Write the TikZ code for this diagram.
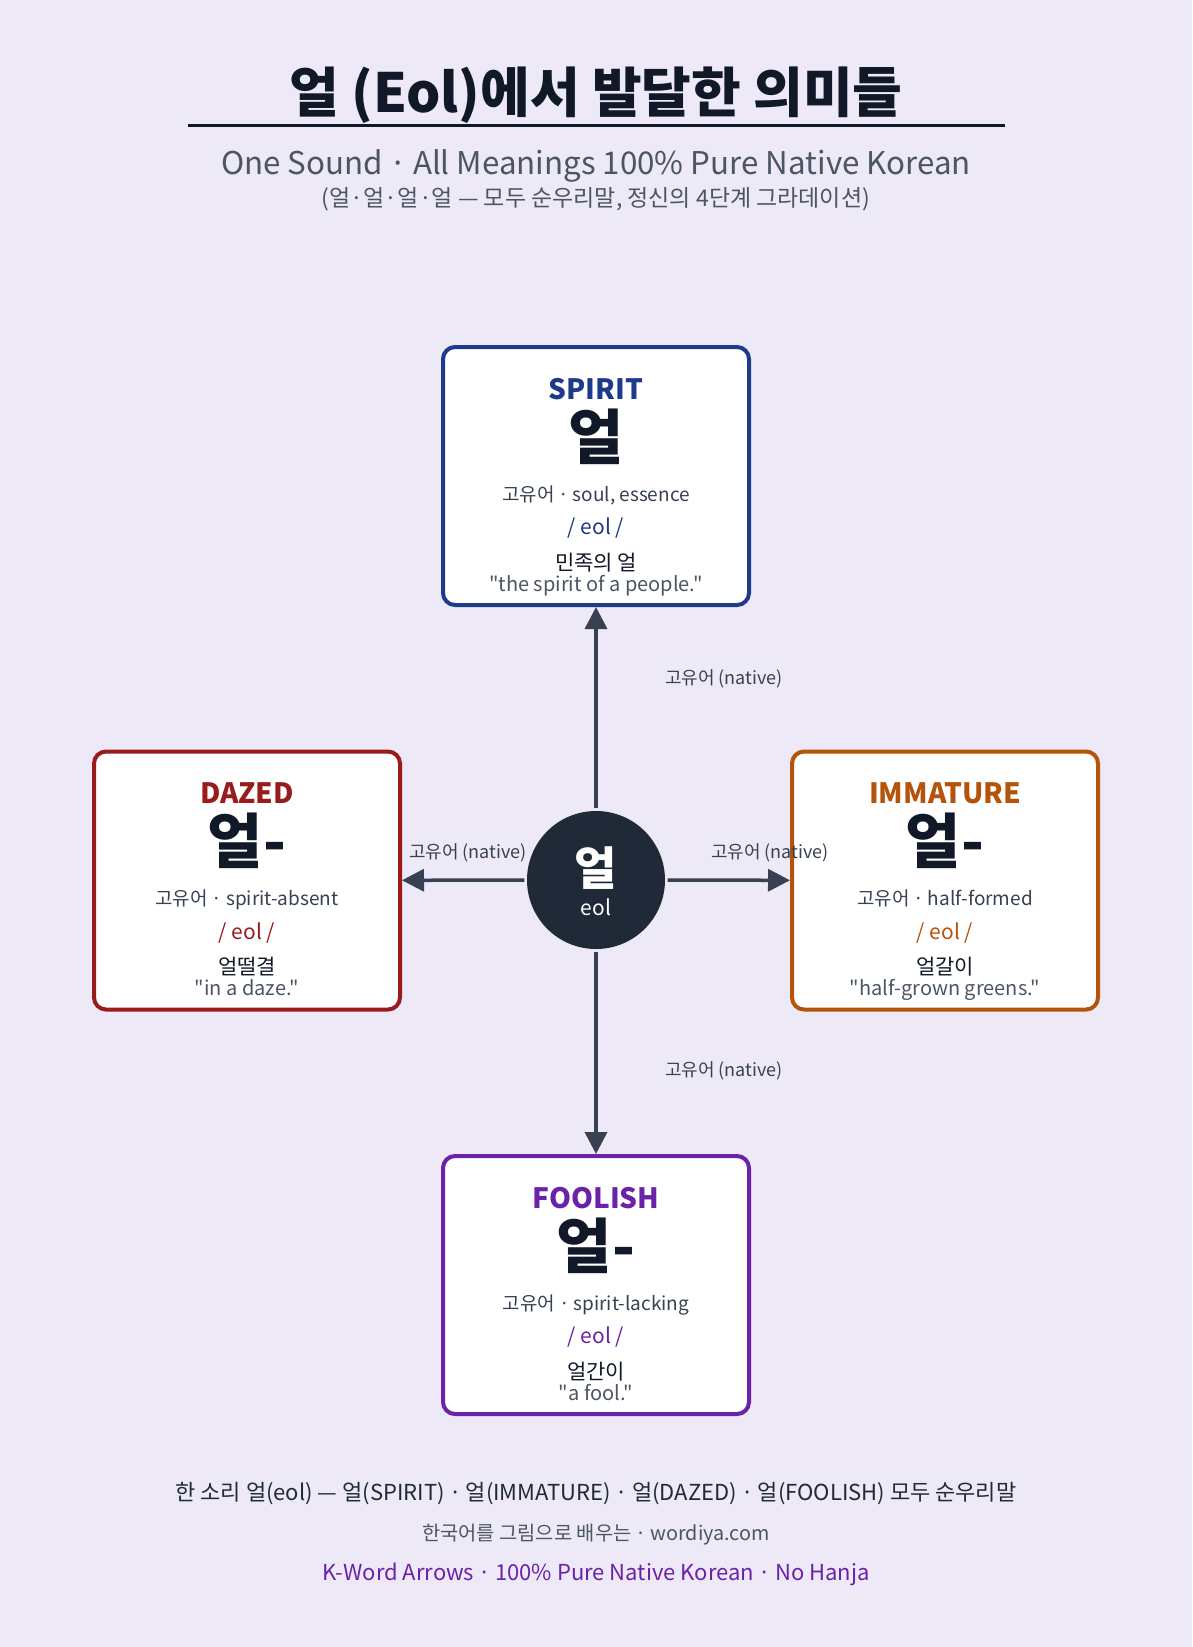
\documentclass[tikz,border=0pt]{standalone}
\usepackage{fontspec}
\setmainfont{Noto Sans CJK KR}[Ligatures=TeXOff]
\usetikzlibrary{arrows.meta}
\definecolor{fond}{HTML}{EDE9F6}
\definecolor{encre}{HTML}{111827}
\definecolor{texte}{HTML}{374151}
\definecolor{gris}{HTML}{4B5563}
\definecolor{rondc}{HTML}{1F2937}
\definecolor{spiritc}{HTML}{1E3A8A}
\definecolor{dazedc}{HTML}{991B1B}
\definecolor{immaturec}{HTML}{B45309}
\definecolor{foolishc}{HTML}{6B21A8}
\newcommand\pointmilieu{\hspace{0.2em}·\hspace{0.2em}}

\begin{document}
\begin{tikzpicture}[x=1pt, y=-1pt]
\tikzset{carte/.style={draw, line width=4pt, rounded corners=12pt, fill=white, minimum width=306pt, minimum height=258pt, inner sep=0pt}}
\tikzset{mot/.style={anchor=base, font=\fontsize{28}{32}\selectfont\bfseries}}
\tikzset{gros/.style={anchor=base, text=encre, font=\fontsize{60}{64}\selectfont\bfseries}}
\tikzset{sens/.style={anchor=base, text=texte, font=\fontsize{19}{22}\selectfont}}
\tikzset{son/.style={anchor=base, font=\fontsize{21}{24}\selectfont}}
\tikzset{exemple/.style={anchor=base, text=encre, font=\fontsize{21}{24}\selectfont}}
\tikzset{citation/.style={anchor=base, text=gris, font=\fontsize{20}{23}\selectfont}}
\tikzset{natif/.style={anchor=base, text=texte, font=\fontsize{18}{21}\selectfont}}
\tikzset{fleche/.style={draw=texte, line width=3.5pt, shorten <=2.5pt, -{Triangle[length=22pt, width=22pt]}}}
\fill[fond] (0,0) rectangle (1192,1647);
\useasboundingbox (0,0) rectangle (1192,1647);
% en-tete
\node[anchor=base, text=encre, font=\fontsize{54}{58}\selectfont\bfseries] (titre) at (596,112) {얼 (Eol)에서 발달한 의미들};
\draw[encre, line width=3pt] (188,125) -- (1005,125);
\node[anchor=base, text=gris, font=\fontsize{31.3}{36}\selectfont] (soustitre) at (596,174) {One Sound\pointmilieu All Meanings 100\% Pure Native Korean};
\node[anchor=base, text=gris, font=\fontsize{23}{27}\selectfont] (note) at (596,206) {(얼·얼·얼·얼 — 모두 순우리말, 정신의 4단계 그라데이션)};
% centre
\node[circle, fill=rondc, minimum size=138pt, inner sep=0pt] (eol) at (596,880) {};
\node[anchor=base, text=white, font=\fontsize{46}{50}\selectfont\bfseries] (eolmot) at (596,885) {얼};
\node[anchor=base, text=white, font=\fontsize{21}{24}\selectfont] (eolson) at (596,915) {eol};
% SPIRIT
\node[carte, draw=spiritc] (spirit) at (596,476) {};
\node[mot, text=spiritc] (spiritmot) at (596,399) {SPIRIT};
\node[gros] (spiritgros) at (596,459) {얼};
\node[sens] (spiritsens) at (596,501) {고유어\pointmilieu soul, essence};
\node[son, text=spiritc] (spiritson) at (596,534.5) {/ eol /};
\node[exemple] (spiritex) at (596,570) {민족의 얼};
\node[citation] (spiritcit) at (596,591) {"the spirit of a people."};
% DAZED
\node[carte, draw=dazedc] (dazed) at (247,880.5) {};
\node[mot, text=dazedc] (dazedmot) at (247,803.5) {DAZED};
\node[gros] (dazedgros) at (247,863.5) {얼-};
\node[sens] (dazedsens) at (247,905.5) {고유어\pointmilieu spirit-absent};
\node[son, text=dazedc] (dazedson) at (247,939) {/ eol /};
\node[exemple] (dazedex) at (247,974.5) {얼떨결};
\node[citation] (dazedcit) at (247,995.5) {"in a daze."};
% IMMATURE
\node[carte, draw=immaturec] (immature) at (945,880.5) {};
\node[mot, text=immaturec] (immaturemot) at (945,803.5) {IMMATURE};
\node[gros] (immaturegros) at (945,863.5) {얼-};
\node[sens] (immaturesens) at (945,905.5) {고유어\pointmilieu half-formed};
\node[son, text=immaturec] (immatureson) at (945,939) {/ eol /};
\node[exemple] (immatureex) at (945,974.5) {얼갈이};
\node[citation] (immaturecit) at (945,995.5) {"half-grown greens."};
% FOOLISH
\node[carte, draw=foolishc] (foolish) at (596,1285) {};
\node[mot, text=foolishc] (foolishmot) at (596,1208) {FOOLISH};
\node[gros] (foolishgros) at (596,1268) {얼-};
\node[sens] (foolishsens) at (596,1310) {고유어\pointmilieu spirit-lacking};
\node[son, text=foolishc] (foolishson) at (596,1343.5) {/ eol /};
\node[exemple] (foolishex) at (596,1379) {얼간이};
\node[citation] (foolishcit) at (596,1400) {"a fool."};
% fleches
\draw[fleche] (eol) -- (spirit);
\draw[fleche] (eol) -- (dazed);
\draw[fleche] (eol) -- (immature);
\draw[fleche] (eol) -- (foolish);
\node[natif] (natifhaut) at (724,684) {고유어 (native)};
\node[natif] (natifgauche) at (468,858) {고유어 (native)};
\node[natif] (natifdroite) at (770,858) {고유어 (native)};
\node[natif] (natifbas) at (724,1076.5) {고유어 (native)};
% pied
\node[anchor=base, text=rondc, font=\fontsize{22}{26}\selectfont] (pied) at (596,1500) {한 소리 얼(eol) — 얼(SPIRIT)\pointmilieu 얼(IMMATURE)\pointmilieu 얼(DAZED)\pointmilieu 얼(FOOLISH) 모두 순우리말};
\node[anchor=base, text=gris, font=\fontsize{19.8}{23}\selectfont] (site) at (596,1540) {한국어를 그림으로 배우는\pointmilieu wordiya.com};
\node[anchor=base, text=foolishc, font=\fontsize{22}{26}\selectfont] (devise) at (596,1580.5) {K-Word Arrows\pointmilieu 100\% Pure Native Korean\pointmilieu No Hanja};
\end{tikzpicture}
\end{document}
